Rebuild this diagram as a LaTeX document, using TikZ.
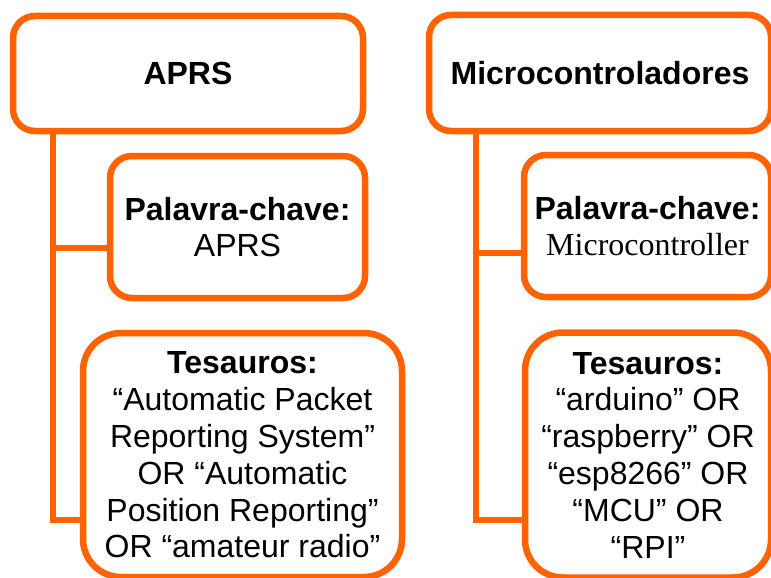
\documentclass[tikz,border=0pt]{standalone}
\usepackage{fontspec}
\setmainfont{Liberation Sans}
\newfontfamily\serifkw{Liberation Serif}
\usepackage{xcolor}
\usepackage{tikz}
\definecolor{boxorange}{RGB}{255,98,0}
\tikzstyle{box}=[fill=white, draw=boxorange, line width=6.5pt, shape=rectangle, rounded corners=22pt, inner sep=0pt, align=center, font=\fontsize{32}{36.8}\selectfont]
\tikzstyle{big box}=[style=box, rounded corners=38pt]
\tikzstyle{link}=[-, draw=boxorange, line width=6.5pt]
\pgfdeclarelayer{nodelayer}
\pgfdeclarelayer{edgelayer}
\pgfsetlayers{edgelayer,main,nodelayer}

\begin{document}
\begin{tikzpicture}[x=1pt, y=-1pt]
	\useasboundingbox (0, 0) rectangle (771, 578);
	\begin{pgfonlayer}{nodelayer}
		\node [style=box, minimum width=350pt, minimum height=115pt] (aprs) at (188, 73.5) {\textbf{APRS}};
		\node [style=box, minimum width=255pt, minimum height=142pt] (aprs kw) at (237.5, 227) {\textbf{Palavra-chave:}\\APRS};
		\node [style=big box, minimum width=319pt, minimum height=244pt] (aprs tes) at (242.5, 455) {\textbf{Tesauros:}\\“Automatic Packet\\Reporting System”\\OR “Automatic\\Position Reporting”\\OR “amateur radio”};
		\node [style=box, minimum width=342pt, minimum height=116pt] (mcu) at (600, 73) {\textbf{Microcontroladores}};
		\node [style=box, minimum width=247pt, minimum height=142pt] (mcu kw) at (647.5, 226) {\textbf{Palavra-chave:}\\{\serifkw Microcontroller}};
		\node [style=big box, minimum width=246pt, minimum height=245pt] (mcu tes) at (648, 455) {\textbf{Tesauros:}\\“arduino” OR\\“raspberry” OR\\“esp8266” OR\\“MCU” OR\\“RPI”};
	\end{pgfonlayer}
	\begin{pgfonlayer}{edgelayer}
		\coordinate (aprs trunk) at (53, 520);
		\coordinate (aprs branch) at (53, 248);
		\coordinate (mcu trunk) at (476, 520);
		\coordinate (mcu branch) at (476, 253);
		\draw [style=link] (aprs trunk |- aprs.south) -- (aprs trunk) -- (aprs trunk -| aprs tes.west);
		\draw [style=link] (aprs branch) -- (aprs branch -| aprs kw.west);
		\draw [style=link] (mcu trunk |- mcu.south) -- (mcu trunk) -- (mcu trunk -| mcu tes.west);
		\draw [style=link] (mcu branch) -- (mcu branch -| mcu kw.west);
	\end{pgfonlayer}
\end{tikzpicture}
\end{document}
